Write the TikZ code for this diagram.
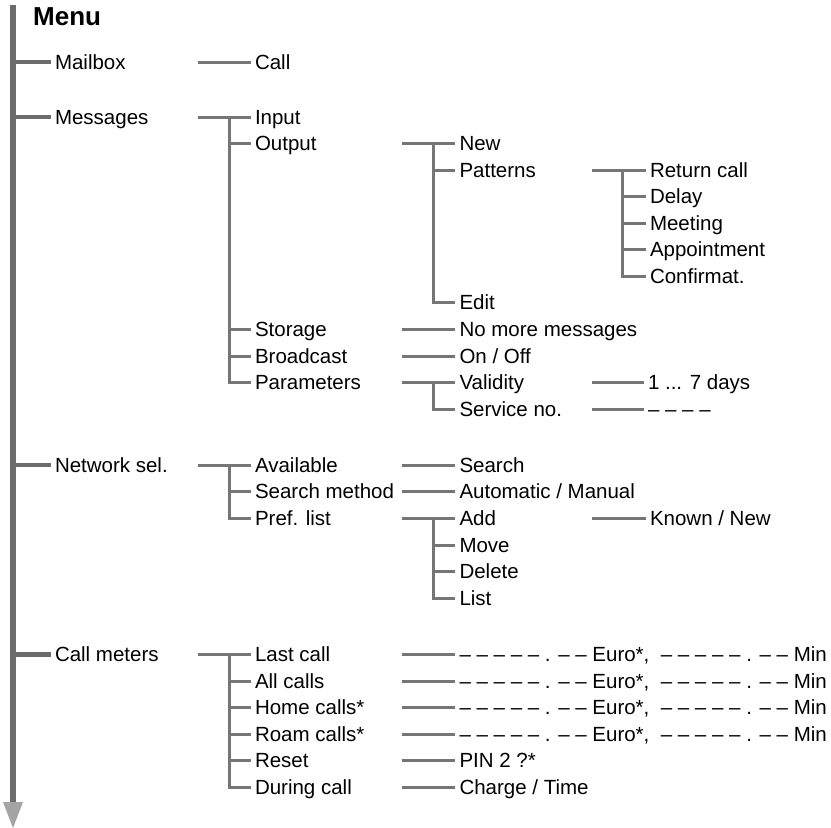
\documentclass[tikz,border=0pt]{standalone}
\usepackage{fontspec}
\setmainfont{Liberation Sans}
\usetikzlibrary{arrows.meta}

\definecolor{spinegray}{HTML}{6C6C6C}
\definecolor{linegray}{HTML}{767676}
\definecolor{tipgray}{HTML}{A4A4A4}

\newcommand{\meterval}{– – – – – . – – Euro*,\ \ – – – – – . – – Min}

\begin{document}
\begin{tikzpicture}[
    x=1pt, y=-1pt,
    entry/.style={anchor=west, inner xsep=4.3pt, inner ysep=0pt,
        text height=14.7pt, text depth=0pt,
        font=\fontsize{20.5}{24}\selectfont},
    spine/.style={line width=5.8pt, spinegray,
        -{Triangle[length=26pt, width=20pt, line width=0pt, color=tipgray]}},
    stub/.style={line width=4.8pt, spinegray},
    conn/.style={line width=3pt, linegray}
]
    \useasboundingbox (0,0) rectangle (831,828);

    % columns
    \coordinate (top) at (13,5);
    \coordinate (bottom) at (13,828);
    \coordinate (c2s) at (198,0);
    \coordinate (c2b) at (229.3,0);
    \coordinate (c3s) at (401.7,0);
    \coordinate (c3b) at (433.3,0);
    \coordinate (c4s) at (591.5,0);
    \coordinate (c4b) at (622.3,0);

    % Title and spine
    \node[anchor=west, inner sep=0pt, text height=18.8pt, text depth=0pt,
        font=\bfseries\fontsize{26}{30}\selectfont] (menu) at (33,16.5) {Menu};
    \draw[spine] (top) -- (bottom);

    % Level 1
    \node[entry] (mailbox) at (50.5,62) {Mailbox};
    \node[entry] (messages) at (50.5,117) {Messages};
    \node[entry] (network) at (50.5,465) {Network sel.};
    \node[entry] (meters) at (50.5,654.5) {Call meters};
    \foreach \n in {mailbox,messages,network,meters}
        \draw[stub] (\n -| top) -- (\n.west);

    % Mailbox
    \node[entry] (call) at (250.5,62) {Call};
    \draw[conn] (mailbox -| c2s) -- (call.west);

    % Messages
    \node[entry] (input) at (250.5,117) {Input};
    \node[entry] (output) at (250.5,143.5) {Output};
    \node[entry] (storage) at (250.5,329) {Storage};
    \node[entry] (broadcast) at (250.5,356) {Broadcast};
    \node[entry] (params) at (250.5,382.5) {Parameters};
    \draw[conn] (messages -| c2s) -- (input.west);
    \draw[conn] (input -| c2b) |- (params.west);
    \foreach \n in {output,storage,broadcast}
        \draw[conn] (\n -| c2b) -- (\n.west);

    % Output
    \node[entry] (new) at (455,143.5) {New};
    \node[entry] (patterns) at (455,170) {Patterns};
    \node[entry] (edit) at (455,302.5) {Edit};
    \draw[conn] (output -| c3s) -- (new.west);
    \draw[conn] (new -| c3b) |- (edit.west);
    \draw[conn] (patterns -| c3b) -- (patterns.west);

    % Patterns
    \node[entry] (retcall) at (645.5,170) {Return call};
    \node[entry] (delay) at (645.5,196.5) {Delay};
    \node[entry] (meeting) at (645.5,223) {Meeting};
    \node[entry] (appoint) at (645.5,249.5) {Appointment};
    \node[entry] (confirm) at (645.5,276) {Confirmat.};
    \draw[conn] (patterns -| c4s) -- (retcall.west);
    \draw[conn] (retcall -| c4b) |- (confirm.west);
    \foreach \n in {delay,meeting,appoint}
        \draw[conn] (\n -| c4b) -- (\n.west);

    % Storage, Broadcast, Parameters
    \node[entry] (nomore) at (455,329) {No more messages};
    \node[entry] (onoff) at (455,356) {On / Off};
    \node[entry] (validity) at (455,382.5) {Validity};
    \node[entry] (serviceno) at (455,409) {Service no.};
    \draw[conn] (storage -| c3s) -- (nomore.west);
    \draw[conn] (broadcast -| c3s) -- (onoff.west);
    \draw[conn] (params -| c3s) -- (validity.west);
    \draw[conn] (validity -| c3b) |- (serviceno.west);
    \node[entry] (days) at (643.5,382.5) {1 ... 7 days};
    \node[entry] (svcdash) at (643.5,409) {– – – –};
    \draw[conn] (validity -| c4s) -- (days.west);
    \draw[conn] (serviceno -| c4s) -- (svcdash.west);

    % Network sel.
    \node[entry] (available) at (250.5,465) {Available};
    \node[entry] (searchmeth) at (250.5,491.5) {Search method};
    \node[entry] (preflist) at (250.5,518) {Pref. list};
    \draw[conn] (network -| c2s) -- (available.west);
    \draw[conn] (available -| c2b) |- (preflist.west);
    \draw[conn] (searchmeth -| c2b) -- (searchmeth.west);
    \node[entry] (search) at (455,465) {Search};
    \node[entry] (automan) at (455,491.5) {Automatic / Manual};
    \node[entry] (add) at (455,518) {Add};
    \node[entry] (move) at (455,545) {Move};
    \node[entry] (delete) at (455,571.5) {Delete};
    \node[entry] (list) at (455,598) {List};
    \draw[conn] (available -| c3s) -- (search.west);
    \draw[conn] (searchmeth -| c3s) -- (automan.west);
    \draw[conn] (preflist -| c3s) -- (add.west);
    \draw[conn] (add -| c3b) |- (list.west);
    \foreach \n in {move,delete}
        \draw[conn] (\n -| c3b) -- (\n.west);
    \node[entry] (known) at (645.5,518) {Known / New};
    \draw[conn] (add -| c4s) -- (known.west);

    % Call meters
    \node[entry] (lastcall) at (250.5,654.5) {Last call};
    \node[entry] (allcalls) at (250.5,681) {All calls};
    \node[entry] (homecalls) at (250.5,707.5) {Home calls*};
    \node[entry] (roamcalls) at (250.5,734) {Roam calls*};
    \node[entry] (reset) at (250.5,760.5) {Reset};
    \node[entry] (during) at (250.5,787) {During call};
    \draw[conn] (meters -| c2s) -- (lastcall.west);
    \draw[conn] (lastcall -| c2b) |- (during.west);
    \foreach \n in {allcalls,homecalls,roamcalls,reset}
        \draw[conn] (\n -| c2b) -- (\n.west);
    \node[entry] (lastval) at (455,654.5) {\meterval};
    \node[entry] (allval) at (455,681) {\meterval};
    \node[entry] (homeval) at (455,707.5) {\meterval};
    \node[entry] (roamval) at (455,734) {\meterval};
    \node[entry] (pin) at (455,760.5) {PIN 2 ?*};
    \node[entry] (charge) at (455,787) {Charge / Time};
    \foreach \a/\b in {lastcall/lastval,allcalls/allval,homecalls/homeval,
        roamcalls/roamval,reset/pin,during/charge}
        \draw[conn] (\a -| c3s) -- (\b.west);
\end{tikzpicture}
\end{document}
